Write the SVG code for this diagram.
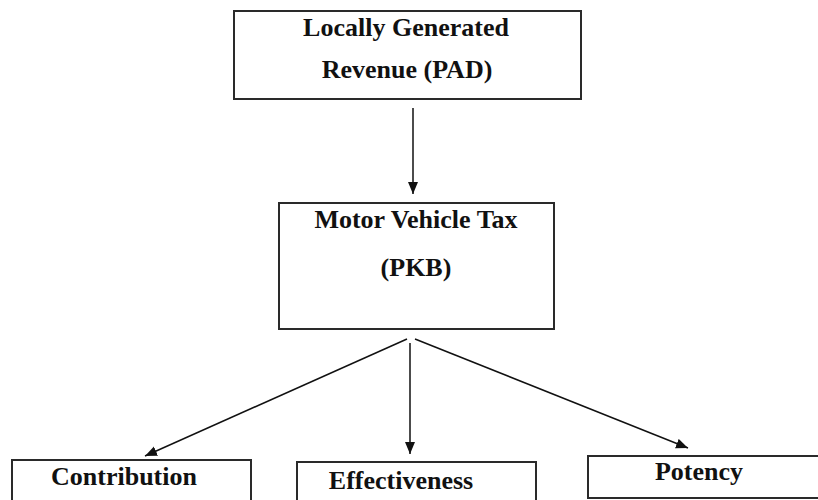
<svg xmlns="http://www.w3.org/2000/svg" width="818" height="500" viewBox="0 0 818 500">
<style>
.box{fill:#fff;stroke:#2a2a2a;stroke-width:2}
.t{font-family:"Liberation Serif","Times New Roman",serif;font-weight:bold;font-size:26px;fill:#111;text-anchor:middle}
.c{stroke:#111;stroke-width:1.5;fill:none}
</style>
<defs>
<marker id="ah" markerWidth="12" markerHeight="12" refX="12" refY="5.5" orient="auto" markerUnits="userSpaceOnUse">
<path d="M0,0.5 L12,5.5 L0,10.5 Z" fill="#111"/>
</marker>
</defs>
<rect width="818" height="500" fill="#fff"/>
<g id="pad">
<rect class="box" x="234" y="11" width="347" height="88"/>
<text class="t" x="406" y="36">Locally Generated</text>
<text class="t" x="407" y="78">Revenue (PAD)</text>
</g>
<g id="pkb">
<rect class="box" x="279" y="203" width="275" height="126"/>
<text class="t" x="416" y="228">Motor Vehicle Tax</text>
<text class="t" x="416" y="276">(PKB)</text>
</g>
<g id="contribution">
<rect class="box" x="12" y="460" width="239" height="50"/>
<text class="t" x="124" y="485">Contribution</text>
</g>
<g id="effectiveness">
<rect class="box" x="297" y="462" width="239" height="50"/>
<text class="t" x="401" y="489">Effectiveness</text>
</g>
<g id="potency">
<rect class="box" x="588" y="456" width="240" height="42"/>
<text class="t" x="699" y="480">Potency</text>
</g>
<g id="connectors">
<line class="c" x1="413" y1="108" x2="413" y2="194" marker-end="url(#ah)"/>
<line class="c" x1="407" y1="339" x2="145" y2="456" marker-end="url(#ah)"/>
<line class="c" x1="410" y1="343" x2="410" y2="454" marker-end="url(#ah)"/>
<line class="c" x1="415" y1="339" x2="688" y2="448" marker-end="url(#ah)"/>
</g>
</svg>
